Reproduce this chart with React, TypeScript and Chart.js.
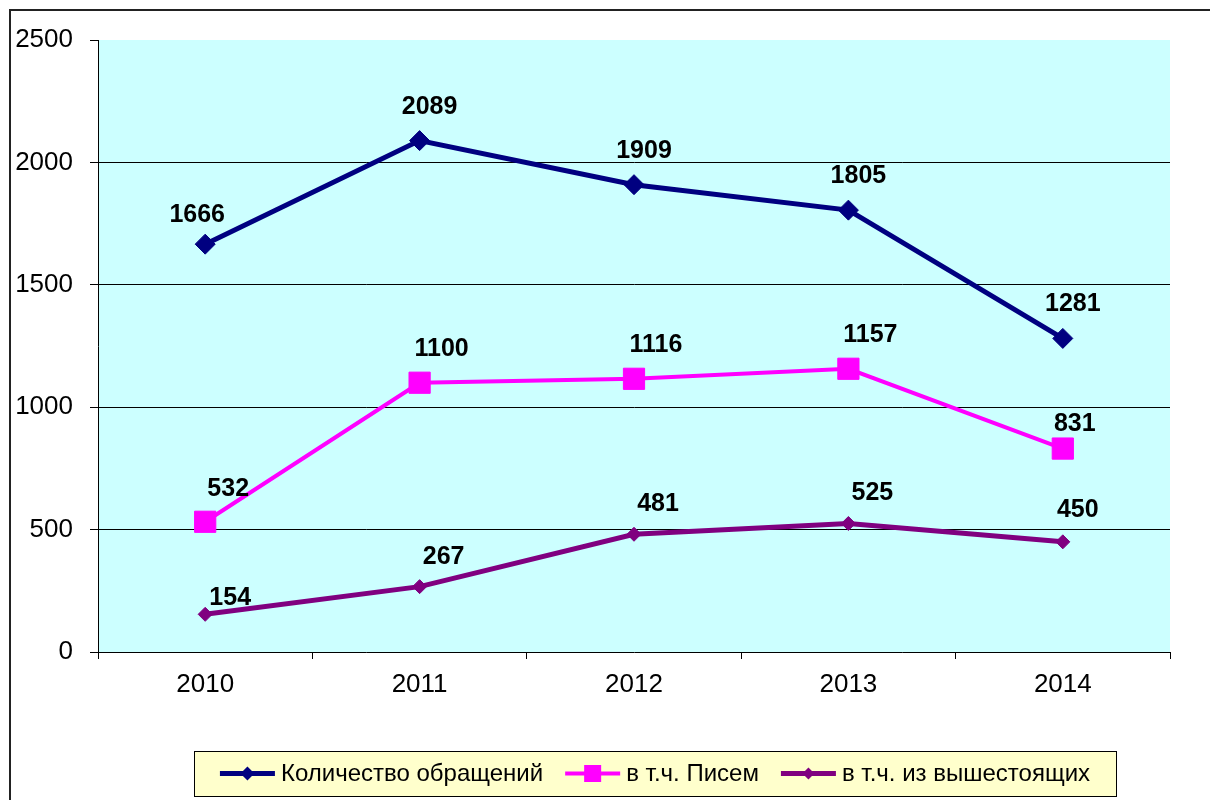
import React, { useEffect, useRef } from 'react';
import { Chart, registerables } from 'chart.js';

Chart.register(...registerables);

const categories = ['2010', '2011', '2012', '2013', '2014'];
const totalAppeals = [1666, 2089, 1909, 1805, 1281];
const letters = [532, 1100, 1116, 1157, 831];
const fromHigher = [154, 267, 481, 525, 450];
const seriesNames = ['Количество обращений', 'в т.ч. Писем', 'в т.ч. из вышестоящих'];
const yMin = 0;
const yMax = 2500;
const yStep = 500;

const FONT = "Arial, 'Liberation Sans', sans-serif";

// label offsets (style): per-series default and per-point overrides
const labelOffsets = [
  { dx: 10, dy: -34, over: { 0: { dx: -8, dy: -29 } } },
  { dx: 22, dy: -34, over: { 0: { dx: 23, dy: -33 }, 4: { dx: 12, dy: -24 } } },
  { dx: 24, dy: -30, over: { 0: { dx: 25, dy: -16 }, 4: { dx: 15, dy: -32 } } },
];

const legendMarkers = [
  { color: '#000080', style: 'diamond', size: 7, lw: 5 },
  { color: '#FF00FF', style: 'square', size: 8.5, lw: 4 },
  { color: '#800080', style: 'diamond', size: 6, lw: 5 },
];

const bgPlugin = {
  id: 'bgPlugin',
  beforeDraw(chart: any) {
    const { ctx, chartArea } = chart;
    ctx.save();
    ctx.fillStyle = '#ffffff';
    ctx.fillRect(0, 0, chart.width, chart.height);
    ctx.fillStyle = '#CCFFFF';
    ctx.fillRect(chartArea.left, chartArea.top, chartArea.right - chartArea.left, chartArea.bottom - chartArea.top);
    ctx.strokeStyle = '#222';
    ctx.lineWidth = 2;
    ctx.beginPath();
    ctx.moveTo(10, chart.height + 5);
    ctx.lineTo(10, 10);
    ctx.lineTo(chart.width + 5, 10);
    ctx.stroke();
    ctx.restore();
  },
};

const labelPlugin = {
  id: 'labelPlugin',
  afterDatasetsDraw(chart: any) {
    const { ctx } = chart;
    ctx.save();
    ctx.font = `bold 25px ${FONT}`;
    ctx.fillStyle = '#000';
    ctx.textAlign = 'center';
    ctx.textBaseline = 'middle';
    chart.data.datasets.forEach((ds: any, di: number) => {
      const meta = chart.getDatasetMeta(di);
      meta.data.forEach((el: any, i: number) => {
        const off = labelOffsets[di];
        const o = (off.over as any)[i] || off;
        ctx.fillText(String(ds.data[i]), el.x + o.dx, el.y + o.dy);
      });
    });
    ctx.restore();
  },
};

const legendPlugin = {
  id: 'legendPlugin',
  afterDraw(chart: any) {
    const { ctx } = chart;
    const box = { x: 194, y: 751, w: 922, h: 45 };
    ctx.save();
    ctx.fillStyle = '#FFFFCC';
    ctx.fillRect(box.x, box.y, box.w, box.h);
    ctx.strokeStyle = '#000';
    ctx.lineWidth = 1;
    ctx.strokeRect(box.x + 0.5, box.y + 0.5, box.w, box.h);
    ctx.font = `24px ${FONT}`;
    ctx.textBaseline = 'middle';
    ctx.textAlign = 'left';
    const lineLen = 55;
    const gapText = 6;
    const gapItem = 22;
    const widths = seriesNames.map((n) => ctx.measureText(n).width);
    const total = widths.reduce((a, b) => a + b, 0) + seriesNames.length * (lineLen + gapText) + gapItem * (seriesNames.length - 1);
    let x = box.x + (box.w - total) / 2;
    const cy = box.y + box.h / 2;
    seriesNames.forEach((name, i) => {
      const m = legendMarkers[i];
      ctx.strokeStyle = m.color;
      ctx.lineWidth = m.lw;
      ctx.beginPath();
      ctx.moveTo(x, cy);
      ctx.lineTo(x + lineLen, cy);
      ctx.stroke();
      const mx = x + lineLen / 2;
      ctx.fillStyle = m.color;
      ctx.beginPath();
      if (m.style === 'diamond') {
        ctx.moveTo(mx, cy - m.size);
        ctx.lineTo(mx + m.size, cy);
        ctx.lineTo(mx, cy + m.size);
        ctx.lineTo(mx - m.size, cy);
        ctx.closePath();
      } else {
        ctx.rect(mx - m.size, cy - m.size, m.size * 2, m.size * 2);
      }
      ctx.fill();
      x += lineLen + gapText;
      ctx.fillStyle = '#000';
      ctx.fillText(name, x, cy + 1);
      x += widths[i] + gapItem;
    });
    ctx.restore();
  },
};

export default function App() {
  const ref = useRef<HTMLCanvasElement | null>(null);
  useEffect(() => {
    document.body.style.overflow = 'hidden';
    const canvas = ref.current!;
    const chart = new Chart(canvas, {
      type: 'line',
      data: {
        labels: categories,
        datasets: [
          {
            label: seriesNames[0],
            data: totalAppeals,
            borderColor: '#000080',
            backgroundColor: '#000080',
            borderWidth: 5,
            pointStyle: 'rectRot',
            pointRadius: 10,
            pointBorderWidth: 1,
            tension: 0,
          },
          {
            label: seriesNames[1],
            data: letters,
            borderColor: '#FF00FF',
            backgroundColor: '#FF00FF',
            borderWidth: 4,
            pointStyle: 'rect',
            pointRadius: 15,
            pointBorderWidth: 1,
            tension: 0,
          },
          {
            label: seriesNames[2],
            data: fromHigher,
            borderColor: '#800080',
            backgroundColor: '#800080',
            borderWidth: 5,
            pointStyle: 'rectRot',
            pointRadius: 7,
            pointBorderWidth: 1,
            tension: 0,
          },
        ],
      },
      options: {
        responsive: false,
        animation: false,
        layout: { padding: { left: 0, right: 40, top: 40, bottom: 0 } },
        plugins: {
          legend: { display: false },
          tooltip: { enabled: false },
        },
        scales: {
          x: {
            offset: true,
            grid: {
              offset: true,
              drawOnChartArea: false,
              drawTicks: true,
              tickLength: 7,
              tickColor: '#000',
            },
            border: { color: '#000', width: 1 },
            ticks: { color: '#000', font: { family: FONT, size: 26 }, padding: 10 },
            afterFit: (s: any) => { s.height = 148; },
          },
          y: {
            min: yMin,
            max: yMax,
            ticks: {
              stepSize: yStep,
              color: '#000',
              font: { family: FONT, size: 26 },
              padding: 17,
              callback: (v: any) => String(v),
            },
            grid: {
              color: (c: any) => (c.tick && c.tick.value > yMin && c.tick.value < yMax ? '#000' : 'rgba(0,0,0,0)'),
              tickColor: '#000',
              tickLength: 8,
              lineWidth: 1,
            },
            border: { color: '#000', width: 1 },
            afterFit: (s: any) => { s.width = 98; },
          },
        },
      },
      plugins: [bgPlugin, labelPlugin, legendPlugin],
    });
    return () => chart.destroy();
  }, []);
  return (
    <canvas
      ref={ref}
      width={1210}
      height={800}
      style={{ position: 'fixed', left: 0, top: 0, display: 'block', width: 1210, height: 800 }}
    />
  );
}
